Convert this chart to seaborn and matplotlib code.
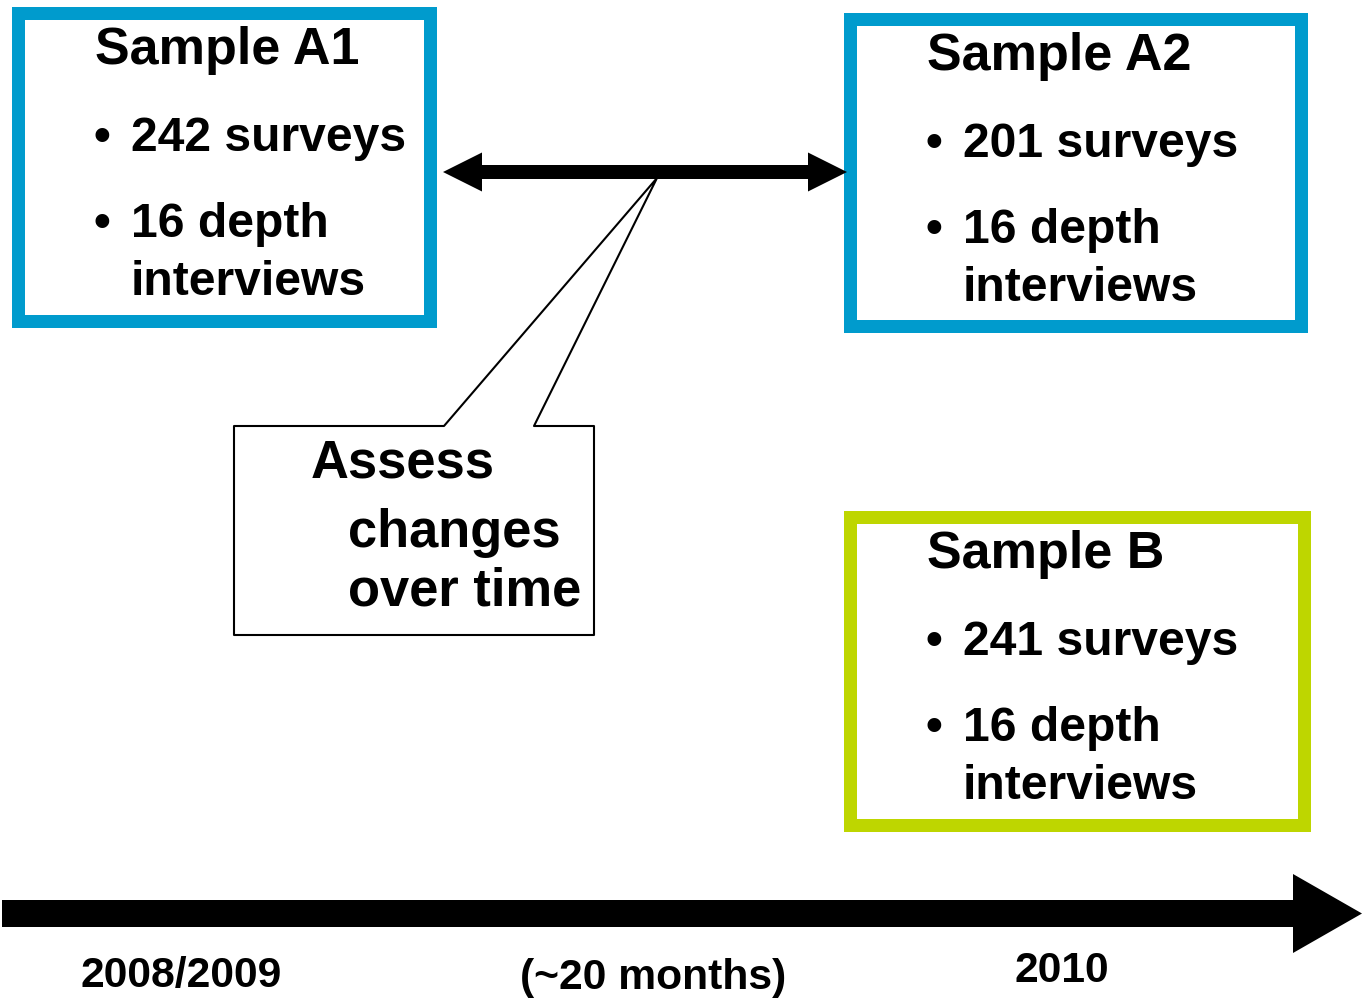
import matplotlib.pyplot as plt
from matplotlib.patches import Rectangle, Polygon
import seaborn as sns

samples = ['Sample A1', 'Sample A2', 'Sample B']
surveys = [242, 201, 241]
depth_interviews = [16, 16, 16]
callout_lines = ['Assess', 'changes', 'over time']
timeline_labels = ['2008/2009', '(~20 months)', '2010']

# layout in canvas pixels (1362 x 998, y pointing down)
W, H = 1362, 998
box_xy = [(11, 6), (843, 12), (843, 510)]      # outer top-left corners
box_wh = [(425, 321), (464, 320), (467, 321)]
box_colors = ['#009BCD', '#009BCD', '#BED600']
border = 13
callout_xy = [(311, 478), (348, 547), (348, 605)]
label_x = [80, 520, 1015]
label_base = [987, 989, 982]

sns.set_theme(style='white')
plt.rcParams['font.family'] = ['Liberation Sans', 'DejaVu Sans']

fig = plt.figure(figsize=(W / 100, H / 100), dpi=100)
ax = fig.add_axes([0, 0, 1, 1])
ax.set_xlim(0, W)
ax.set_ylim(H, 0)
ax.axis('off')


def arrow_pts(x0, x1, y, shaft, head_w, head_l, double=False):
    # outline of a horizontal block arrow pointing right (and left if double)
    s, hw = shaft / 2, head_w / 2
    right = [(x1 - head_l, y - s), (x1 - head_l, y - hw), (x1, y),
             (x1 - head_l, y + hw), (x1 - head_l, y + s)]
    if double:
        left = [(x0 + head_l, y + s), (x0 + head_l, y + hw), (x0, y),
                (x0 + head_l, y - hw), (x0 + head_l, y - s)]
    else:
        left = [(x0, y + s), (x0, y - s)]
    return left[-1:] + right + left[:-1]


txt = dict(fontweight='bold', color='black', va='baseline')

# sample boxes
for name, n_s, n_i, (x0, y0), (w, h), col in zip(samples, surveys, depth_interviews,
                                                 box_xy, box_wh, box_colors):
    ax.add_patch(Rectangle((x0 + border / 2, y0 + border / 2), w - border, h - border,
                           fill=False, ec=col, lw=border * 0.72, joinstyle='miter', zorder=2))
    ax.text(x0 + 84, y0 + 58, name, fontsize=37.5, **txt)
    for line, dy, bullet in [(f'{n_s} surveys', 145, True),
                             (f'{n_i} depth', 231, True),
                             ('interviews', 289, False)]:
        if bullet:
            ax.text(x0 + 91, y0 + dy, '\u2022', fontsize=34.6, ha='center', **txt)
        ax.text(x0 + 120, y0 + dy, line, fontsize=34.6, **txt)

# callout bubble
bubble = [(234, 426), (444, 426), (657, 178), (534, 426), (594, 426), (594, 635), (234, 635)]
ax.add_patch(Polygon(bubble, closed=True, fc='white', ec='black', lw=1.5,
                     joinstyle='round', zorder=2))
for line, (x, y) in zip(callout_lines, callout_xy):
    ax.text(x, y, line, fontsize=37.8, zorder=3, **txt)

# double arrow between A1 and A2
ax.add_patch(Polygon(arrow_pts(443, 847, 172, 14, 39, 39, double=True),
                     closed=True, fc='black', ec='none', zorder=4))

# timeline
ax.add_patch(Polygon(arrow_pts(2, W, 913.5, 27, 79, 69),
                     closed=True, fc='black', ec='none', zorder=4))
for lab, x, y in zip(timeline_labels, label_x, label_base):
    ax.text(x, y, lab, fontsize=30.7, **txt)

plt.savefig('out.png', dpi=100, facecolor='white')
